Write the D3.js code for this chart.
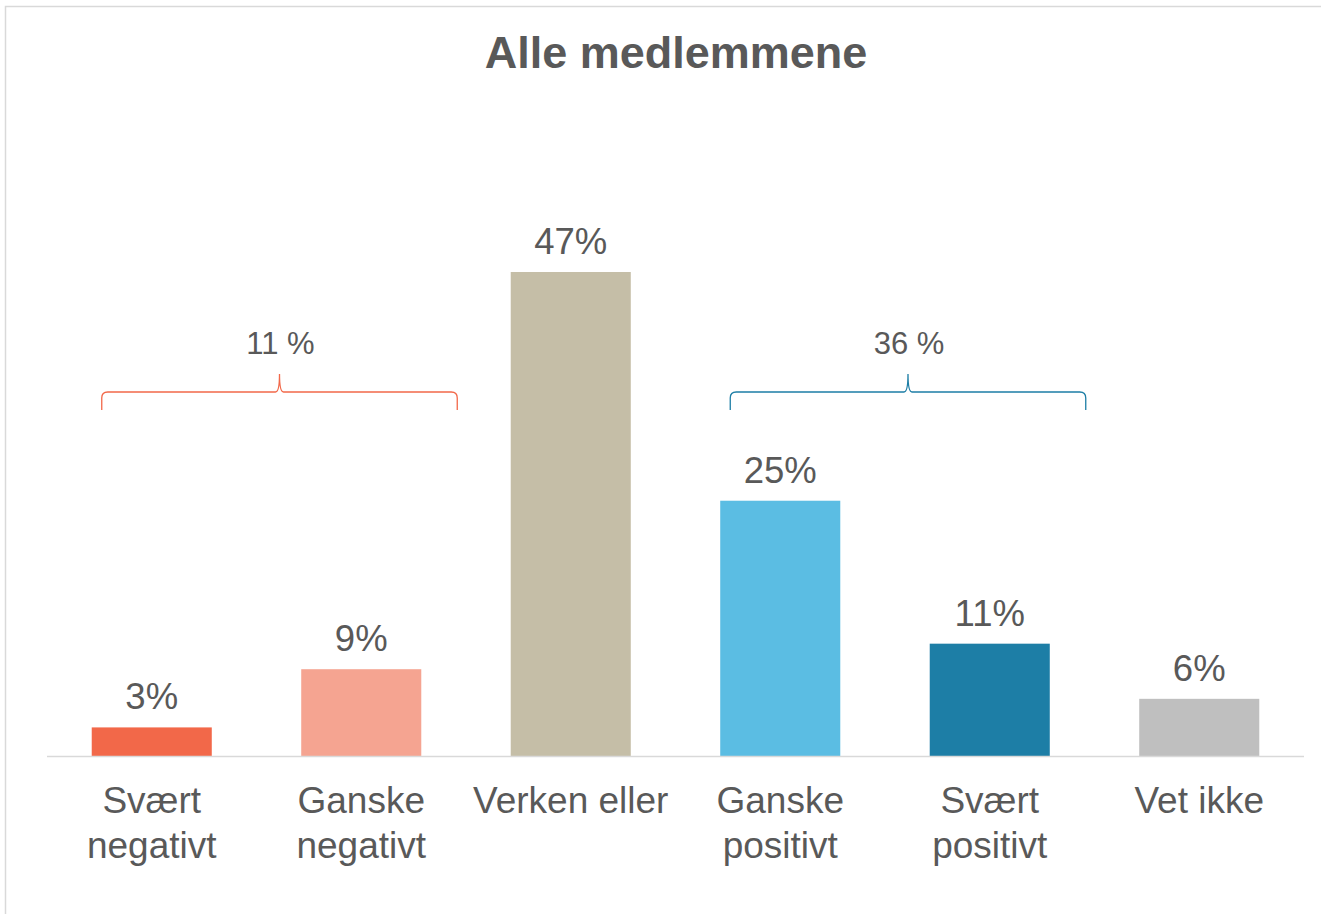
<!DOCTYPE html>
<html>
<head>
<meta charset="utf-8">
<script src="https://cdn.jsdelivr.net/npm/d3@7"></script>
<style>
  body { margin: 0; background: #fff; }
  text { font-family: "Liberation Sans", Arial, sans-serif; fill: #595959; }
</style>
</head>
<body>
<div id="chart"></div>
<script>
// data
var categories = ["Svært negativt", "Ganske negativt", "Verken eller", "Ganske positivt", "Svært positivt", "Vet ikke"];
var labelLines = [["Svært", "negativt"], ["Ganske", "negativt"], ["Verken eller"], ["Ganske", "positivt"], ["Svært", "positivt"], ["Vet ikke"]];
var values = [2.8, 8.5, 47.4, 25, 11, 5.6];
var colors = ["#F26849", "#F5A491", "#C5BEA7", "#5BBDE3", "#1D7EA6", "#BFBFBF"];
var groupLabels = ["11 %", "36 %"];
var groupSpans = [[0, 1], [3, 4]];
var groupColors = ["#F26849", "#1D7EA6"];

var svgWidth = 1321, svgHeight = 914;
var baseY = 756;

var svg = d3.select("#chart").append("svg")
  .attr("width", svgWidth)
  .attr("height", svgHeight);

// chart border (runs off the right and bottom edge)
svg.append("rect")
  .attr("x", 5.5).attr("y", 6.5)
  .attr("width", 1340).attr("height", 940)
  .attr("fill", "#fff")
  .attr("stroke", "#D9D9D9")
  .attr("stroke-width", 1.5);

svg.append("text")
  .attr("x", 676).attr("y", 68)
  .attr("text-anchor", "middle")
  .style("font-size", "45px")
  .style("font-weight", "bold")
  .text("Alle medlemmene");

var x = d3.scaleBand()
  .domain(categories)
  .range([47, 1304])
  .paddingInner(0.427)
  .paddingOuter(0.2135);

var y = d3.scaleLinear()
  .domain([0, 47.4])
  .range([baseY, 272]);

// bars
svg.append("g").selectAll("rect")
  .data(values)
  .enter()
  .append("rect")
  .attr("x", (d, i) => x(categories[i]))
  .attr("y", d => y(d))
  .attr("width", x.bandwidth())
  .attr("height", d => baseY - y(d))
  .attr("fill", (d, i) => colors[i]);

// axis line
svg.append("line")
  .attr("x1", 47).attr("x2", 1304)
  .attr("y1", baseY + 0.5).attr("y2", baseY + 0.5)
  .attr("stroke", "#D9D9D9")
  .attr("stroke-width", 1.5);

// value labels
svg.append("g").selectAll("text")
  .data(values)
  .enter()
  .append("text")
  .attr("x", (d, i) => x(categories[i]) + x.bandwidth() / 2)
  .attr("y", d => y(d) - 18)
  .attr("text-anchor", "middle")
  .style("font-size", "36.5px")
  .text(d => Math.round(d) + "%");

// category labels
var catText = svg.append("g").selectAll("text")
  .data(labelLines)
  .enter()
  .append("text")
  .attr("x", (d, i) => x(categories[i]) + x.bandwidth() / 2)
  .attr("y", 813)
  .attr("text-anchor", "middle")
  .style("font-size", "37px");

catText.selectAll("tspan")
  .data((d, i) => d.map(t => ({ t: t, cx: x(categories[i]) + x.bandwidth() / 2 })))
  .enter()
  .append("tspan")
  .attr("x", d => d.cx)
  .attr("dy", (d, j) => j === 0 ? 0 : 45)
  .text(d => d.t);

// braces for grouped totals
var braceY = 392, braceEnd = 410, notchY = 374;
groupSpans.forEach(function(span, g) {
  var left = x(categories[span[0]]) + x.bandwidth() / 2 - 50;
  var right = x(categories[span[1]]) + x.bandwidth() / 2 + 96;
  var mid = (left + right) / 2;
  var r = 6;
  var p = d3.path();
  p.moveTo(left, braceEnd);
  p.lineTo(left, braceY + r);
  p.quadraticCurveTo(left, braceY, left + r, braceY);
  p.lineTo(mid - 4, braceY);
  p.quadraticCurveTo(mid, braceY, mid, notchY);
  p.quadraticCurveTo(mid, braceY, mid + 4, braceY);
  p.lineTo(right - r, braceY);
  p.quadraticCurveTo(right, braceY, right, braceY + r);
  p.lineTo(right, braceEnd);

  svg.append("path")
    .attr("d", p.toString())
    .attr("fill", "none")
    .attr("stroke", groupColors[g])
    .attr("stroke-width", 1.3);

  svg.append("text")
    .attr("x", mid + 1)
    .attr("y", 354)
    .attr("text-anchor", "middle")
    .style("font-size", "31px")
    .text(groupLabels[g]);
});
</script>
</body>
</html>
